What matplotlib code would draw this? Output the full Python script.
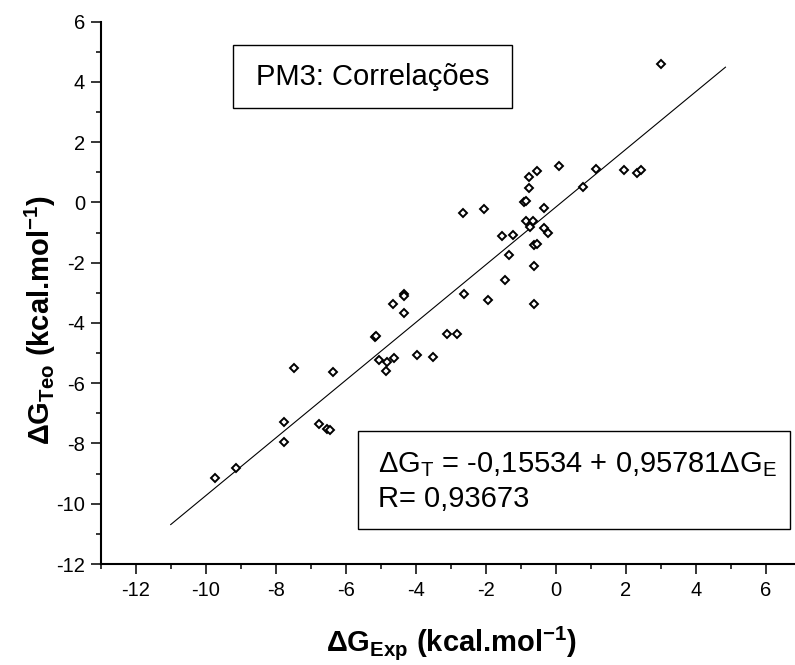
import matplotlib
matplotlib.use("Agg")
import matplotlib.pyplot as plt
from matplotlib.patches import Rectangle
from matplotlib.ticker import MultipleLocator

plt.rcParams['font.family'] = ['Liberation Sans', 'DejaVu Sans']
plt.rcParams['mathtext.fontset'] = 'custom'
plt.rcParams['mathtext.rm'] = 'Liberation Sans'
plt.rcParams['mathtext.bf'] = 'Liberation Sans:bold'
plt.rcParams['mathtext.it'] = 'Liberation Sans:italic'
plt.rcParams['axes.unicode_minus'] = False

# ---- data ----
dG_exp = [3.00, 1.94, 2.32, 2.43, 1.15, 0.78, 0.08, -0.54, -0.76, -0.75,
          -0.90, -0.86, -0.33, -2.64, -2.04, -0.86, -0.64, -0.73, -0.33, -0.21,
          -1.53, -1.22, -0.63, -0.53, -1.34, -0.62, -1.44, -2.63, -1.93, -0.62,
          -4.66, -4.34, -4.34, -4.34, -5.16, -5.14, -3.12, -2.82, -3.95, -3.52,
          -5.06, -4.83, -4.63, -4.84, -7.48, -6.37, -7.75, -7.75, -6.75, -6.53,
          -6.46, -9.13, -9.74]
dG_teo = [4.58, 1.08, 0.98, 1.08, 1.10, 0.52, 1.22, 1.04, 0.84, 0.47,
          0.02, 0.04, -0.17, -0.36, -0.22, -0.62, -0.63, -0.80, -0.84, -1.02,
          -1.11, -1.07, -1.42, -1.38, -1.74, -2.10, -2.56, -3.05, -3.24, -3.38,
          -3.36, -3.04, -3.12, -3.66, -4.45, -4.42, -4.38, -4.38, -5.07, -5.14,
          -5.24, -5.30, -5.17, -5.59, -5.48, -5.62, -7.29, -7.95, -7.34, -7.53,
          -7.56, -8.83, -9.14]

fit_intercept = -0.15534
fit_slope = 0.95781
fit_R = 0.93673
fit_x = [-11.0, 4.85]
fit_y = [fit_intercept + fit_slope * v for v in fit_x]

x_ticks = [-12, -10, -8, -6, -4, -2, 0, 2, 4, 6]
y_ticks = [-12, -10, -8, -6, -4, -2, 0, 2, 4, 6]

title_text = "PM3: Correlações"
eq_text = r"ΔG$_\mathrm{T}$ = -0,15534 + 0,95781ΔG$_\mathrm{E}$"
r_text = "R= 0,93673"
xlabel = r"ΔG$_\mathbf{Exp}$ (kcal.mol$^\mathbf{-1}$)"
ylabel = r"ΔG$_\mathbf{Teo}$ (kcal.mol$^\mathbf{-1}$)"

# ---- figure ----
W, H = 795, 665
fig = plt.figure(figsize=(W / 100, H / 100), dpi=100)
ax = fig.add_axes([100.7 / W, 1 - 564 / H, 700 / W, 542.3 / H])

ax.set_xlim(-13, 7)
ax.set_ylim(-12, 6)

ax.plot(fit_x, fit_y, color='black', lw=0.8, zorder=2)
ax.plot(dG_exp, dG_teo, linestyle='none', marker='D', markersize=4.0,
        markerfacecolor='white', markeredgecolor='black', markeredgewidth=1.4,
        zorder=3)

for s in ['top', 'right']:
    ax.spines[s].set_visible(False)
for s in ['left', 'bottom']:
    ax.spines[s].set_linewidth(1.5)

ax.set_xticks(x_ticks)
ax.set_yticks(y_ticks)
ax.xaxis.set_minor_locator(MultipleLocator(1))
ax.yaxis.set_minor_locator(MultipleLocator(1))
ax.tick_params(which='major', direction='out', length=7.2, width=1.1,
               labelsize=14.5, pad=4)
ax.tick_params(axis='x', which='major', pad=5)
ax.tick_params(which='minor', direction='out', length=3.8, width=1.1)

# title box
ax.add_patch(Rectangle((0.189, 0.841), 0.398, 0.116, transform=ax.transAxes,
                       fill=False, edgecolor='black', lw=1.0, zorder=4))
ax.text(0.388, 0.898, title_text, transform=ax.transAxes, ha='center',
        va='center', fontsize=21)

# equation box
ax.add_patch(Rectangle((0.3676, 0.0645), 0.6171, 0.1808, transform=ax.transAxes,
                       fill=False, edgecolor='black', lw=1.0, zorder=4))
ax.text(0.396, 0.1826, eq_text, transform=ax.transAxes, ha='left',
        va='center', fontsize=21)
ax.text(0.396, 0.1199, r_text, transform=ax.transAxes, ha='left',
        va='center', fontsize=21)

# axis labels
fig.text(451.5 / W, 1 - 643 / H, xlabel, ha='center', va='center',
         fontsize=21, fontweight='bold')
fig.text(40 / W, 1 - 320 / H, ylabel, ha='center', va='center',
         fontsize=21, fontweight='bold', rotation=90)

fig.savefig('out.png', dpi=100)
